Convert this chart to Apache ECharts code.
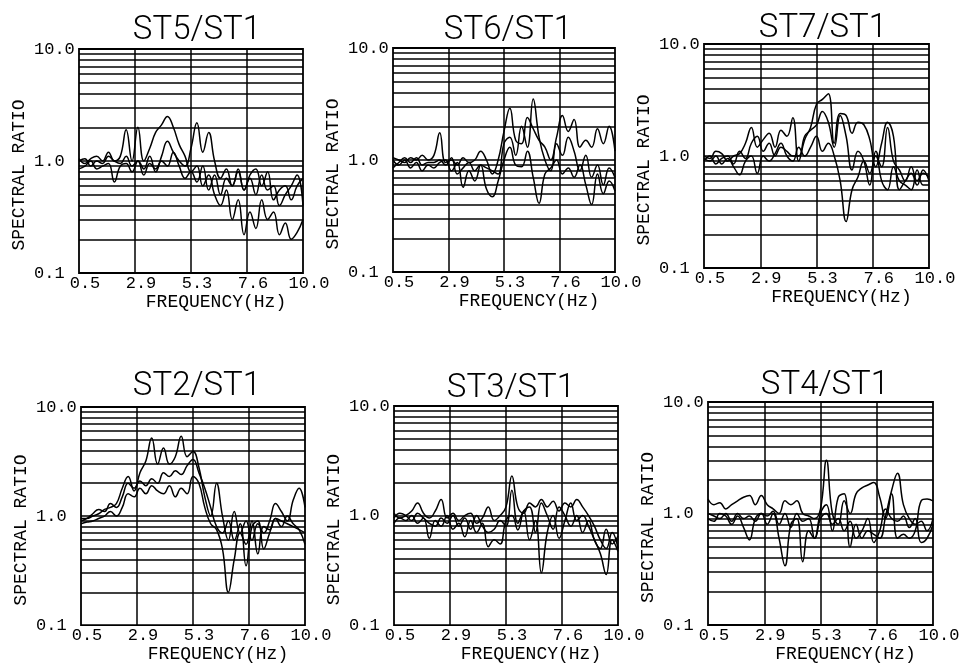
<!DOCTYPE html>
<html>
<head>
<meta charset="utf-8">
<title>Spectral ratio</title>
<script src="https://cdn.jsdelivr.net/npm/echarts@6/dist/echarts.min.js"></script>
<style>
  html, body { margin: 0; padding: 0; background: #fff; }
  #chart { width: 971px; height: 664px; }
</style>
</head>
<body>
<div id="chart"></div>
<script>
// frequency samples (Hz)
var freqs = [0.5, 0.75, 1, 1.25, 1.5, 1.75, 2, 2.25, 2.5, 2.75, 3, 3.25, 3.5, 3.75, 4, 4.25, 4.5, 4.75, 5, 5.25,
  5.5, 5.75, 6, 6.25, 6.5, 6.75, 7, 7.25, 7.5, 7.75, 8, 8.25, 8.5, 8.75, 9, 9.25, 9.5, 9.75, 10];

// tick values / labels
var xTickValues = [0.5, 2.875, 5.25, 7.625, 10];
var xTickLabels = ['0.5', '2.9', '5.3', '7.6', '10.0'];
var yTickValues = [0.1, 1, 10];
var yTickLabels = ['0.1', '1.0', '10.0'];
var yGridValues = [0.2, 0.3, 0.4, 0.5, 0.6, 0.7, 0.8, 0.9, 1, 2, 3, 4, 5, 6, 7, 8, 9];

// ST5/ST1
var st5A = [1.05, 0.95, 1.05, 1.1, 1.0, 1.2, 1.0, 1.1, 1.9, 1.0, 2.0, 1.0, 1.3, 1.8, 2.1, 2.5, 2.0, 1.4, 1.1, 0.8,
  0.9, 0.6, 0.75, 0.5, 0.4, 0.55, 0.3, 0.45, 0.22, 0.35, 0.25, 0.45, 0.3, 0.35, 0.22, 0.28, 0.2, 0.23, 0.3];
var st5B = [1.0, 1.05, 0.9, 1.0, 0.95, 1.1, 1.0, 0.95, 1.1, 0.9, 1.0, 0.85, 1.1, 0.8, 1.1, 1.5, 1.2, 1.0, 0.9, 1.3,
  2.2, 1.2, 1.8, 1.0, 0.7, 0.85, 0.6, 0.8, 0.55, 0.75, 0.85, 0.6, 0.8, 0.45, 0.55, 0.6, 0.45, 0.6, 0.7];
var st5C = [0.85, 0.9, 1.0, 0.85, 0.9, 0.95, 0.65, 0.9, 0.95, 0.8, 1.0, 0.75, 0.95, 0.85, 1.0, 0.9, 1.2, 0.9, 0.7, 0.8,
  0.65, 0.9, 0.55, 0.75, 0.5, 0.7, 0.6, 0.85, 0.55, 0.7, 0.5, 0.75, 0.55, 0.6, 0.4, 0.5, 0.6, 0.75, 0.4];

// ST6/ST1
var st6A = [1.05, 1.0, 0.95, 1.05, 1.0, 1.1, 1.0, 1.1, 1.75, 0.95, 1.0, 0.9, 1.05, 0.95, 1.0, 1.2, 1.0, 0.75, 1.0, 1.8,
  2.9, 1.5, 1.4, 2.4, 1.9, 1.5, 1.3, 1.0, 1.6, 2.5, 1.8, 2.3, 1.3, 1.5, 1.3, 1.9, 1.4, 2.0, 1.2];
var st6B = [0.85, 0.95, 1.05, 0.95, 1.05, 0.9, 0.95, 0.95, 1.0, 0.9, 1.05, 0.75, 0.85, 0.95, 0.8, 0.9, 0.85, 0.8, 0.75, 1.4,
  1.6, 1.1, 2.0, 1.3, 3.5, 1.6, 1.0, 0.8, 1.4, 1.1, 1.6, 1.2, 0.8, 1.1, 0.7, 0.9, 0.6, 0.85, 0.7];
var st6C = [1.0, 0.9, 1.0, 0.85, 0.95, 0.8, 0.9, 0.85, 0.95, 1.0, 0.8, 0.95, 0.57, 0.8, 0.65, 0.9, 0.55, 0.47, 0.65, 1.0,
  1.3, 0.9, 0.87, 1.2, 0.7, 0.41, 0.75, 0.85, 1.0, 0.75, 0.85, 0.7, 0.9, 0.6, 0.4, 0.75, 0.5, 0.65, 0.53];

// ST7/ST1
var st7A = [1.0, 0.95, 1.1, 1.05, 0.9, 1.0, 1.05, 1.3, 1.8, 1.2, 1.4, 1.6, 1.2, 1.7, 1.5, 2.2, 0.9, 1.4, 1.8, 2.9,
  3.2, 3.6, 1.3, 2.4, 2.3, 1.6, 2.0, 1.9, 1.4, 0.8, 1.3, 2.0, 1.5, 0.5, 0.6, 0.7, 0.55, 0.75, 0.6];
var st7B = [0.9, 1.0, 0.85, 0.95, 1.0, 0.85, 1.1, 0.95, 1.3, 1.5, 1.1, 1.3, 1.0, 1.2, 1.1, 1.0, 1.0, 1.5, 1.7, 1.9,
  2.5, 2.0, 1.2, 2.3, 1.5, 0.75, 1.1, 0.9, 0.55, 1.0, 0.8, 1.8, 0.9, 0.75, 0.6, 0.8, 0.6, 0.7, 0.65];
var st7C = [0.95, 0.9, 1.0, 0.85, 0.95, 0.8, 0.68, 0.9, 1.0, 0.7, 1.0, 0.9, 1.05, 1.3, 1.0, 0.9, 1.2, 1.0, 1.2, 1.5,
  1.1, 1.3, 1.0, 0.6, 0.26, 0.5, 0.65, 0.9, 0.7, 1.1, 0.6, 0.5, 0.8, 0.6, 0.55, 0.5, 0.75, 0.55, 0.55];

// ST2/ST1
var st2A = [0.95, 0.95, 1.0, 1.05, 1.15, 1.2, 1.3, 1.8, 2.3, 1.7, 2.5, 3.2, 5.2, 3.0, 4.2, 3.0, 3.5, 5.4, 3.5, 3.9,
  2.8, 1.5, 1.0, 2.0, 1.0, 0.6, 1.1, 0.7, 0.9, 0.6, 0.85, 0.7, 0.9, 1.3, 1.1, 0.9, 1.4, 1.8, 1.2];
var st2B = [0.9, 0.95, 1.05, 1.15, 1.1, 1.3, 1.2, 1.5, 2.0, 1.8, 2.1, 1.9, 2.2, 2.0, 2.5, 2.3, 2.6, 2.4, 2.9, 3.3,
  2.5, 1.8, 1.2, 0.8, 0.7, 0.9, 0.6, 0.85, 0.35, 0.8, 0.9, 0.5, 0.7, 0.95, 0.8, 1.0, 0.85, 0.75, 0.55];
var st2C = [0.85, 0.88, 0.9, 0.95, 1.0, 1.1, 1.0, 1.2, 1.6, 1.5, 1.8, 1.6, 1.9, 1.7, 1.6, 1.9, 1.5, 1.8, 1.6, 2.3,
  2.0, 1.2, 0.85, 0.75, 0.5, 0.2, 0.4, 0.7, 0.55, 0.9, 0.45, 0.8, 0.75, 0.95, 0.9, 0.85, 0.8, 0.75, 0.7];

// ST3/ST1
var st3A = [1.05, 0.95, 1.0, 1.1, 1.3, 1.05, 0.95, 1.1, 1.4, 0.95, 1.05, 0.9, 1.0, 1.05, 0.85, 0.95, 1.2, 0.9, 1.0, 1.2,
  2.3, 1.2, 1.05, 1.3, 1.2, 1.4, 1.2, 1.35, 1.1, 1.3, 1.2, 1.4, 1.2, 1.0, 0.8, 0.6, 0.5, 0.7, 0.5];
var st3B = [0.95, 1.05, 1.0, 0.9, 1.05, 0.95, 0.85, 0.8, 0.95, 0.85, 1.0, 0.8, 0.95, 0.75, 1.0, 0.8, 0.7, 0.75, 0.9, 0.8,
  1.7, 0.85, 1.1, 1.2, 0.7, 1.3, 1.0, 0.75, 1.2, 1.0, 0.8, 1.0, 0.7, 0.9, 0.6, 0.5, 0.75, 0.55, 0.65];
var st3C = [0.85, 0.95, 0.9, 1.0, 0.85, 0.95, 0.62, 0.9, 0.8, 1.0, 0.75, 0.85, 0.64, 0.9, 0.7, 0.85, 0.52, 0.6, 0.55, 0.9,
  1.0, 0.74, 1.1, 0.6, 0.9, 0.3, 0.7, 1.0, 0.62, 0.9, 1.3, 0.9, 1.0, 0.8, 0.6, 0.45, 0.29, 0.6, 0.47];

// ST4/ST1
var st4A = [1.35, 1.2, 1.25, 1.1, 1.2, 1.3, 1.4, 1.45, 1.2, 1.45, 1.2, 1.1, 1.0, 1.3, 1.2, 1.3, 1.0, 0.95, 0.9, 1.1,
  3.0, 1.0, 0.8, 1.3, 1.0, 1.5, 1.7, 1.8, 1.9, 1.4, 0.9, 1.5, 0.6, 0.65, 0.6, 0.7, 1.3, 1.35, 1.3];
var st4B = [1.0, 0.95, 0.9, 1.0, 0.85, 1.0, 0.9, 0.95, 0.85, 1.0, 0.95, 1.05, 0.8, 1.0, 0.75, 1.0, 0.85, 0.9, 0.6, 1.0,
  1.2, 0.7, 1.4, 1.5, 0.5, 0.8, 0.6, 0.7, 0.65, 0.6, 0.95, 1.6, 2.3, 1.2, 0.9, 0.8, 0.85, 0.7, 0.9];
var st4C = [0.9, 0.85, 1.0, 0.95, 0.8, 0.95, 0.75, 0.58, 0.9, 1.0, 0.8, 1.0, 0.6, 0.34, 0.8, 0.9, 0.37, 0.7, 0.6, 0.9,
  1.0, 0.8, 0.9, 0.7, 0.85, 0.6, 0.7, 0.9, 0.55, 0.7, 1.1, 0.9, 0.85, 0.95, 0.75, 0.9, 0.55, 0.6, 0.8];

var panels = [
  { name: 'ST5/ST1', lines: [st5A, st5B, st5C], box: [79, 49, 224, 224], titleX: 197, titleY: 14 },
  { name: 'ST6/ST1', lines: [st6A, st6B, st6C], box: [393, 48, 222, 224], titleX: 508, titleY: 14 },
  { name: 'ST7/ST1', lines: [st7A, st7B, st7C], box: [704, 44, 225, 224], titleX: 823, titleY: 12 },
  { name: 'ST2/ST1', lines: [st2A, st2B, st2C], box: [81, 407, 224, 223], titleX: 197, titleY: 370 },
  { name: 'ST3/ST1', lines: [st3A, st3B, st3C], box: [394, 406, 224, 222], titleX: 511, titleY: 372 },
  { name: 'ST4/ST1', lines: [st4A, st4B, st4C], box: [708, 402, 225, 223], titleX: 825, titleY: 369 }
];

var FONT = 'Liberation Mono';

function pick(values, labels, v) {
  for (var k = 0; k < values.length; k++) {
    if (Math.abs(values[k] - v) < 1e-6 * Math.max(1, Math.abs(v))) return labels[k];
  }
  return '';
}

var gridMarks = [];
yGridValues.forEach(function (v) { gridMarks.push({ yAxis: v }); });
xTickValues.slice(1, -1).forEach(function (v) { gridMarks.push({ xAxis: v }); });

var option = {
  animation: false,
  backgroundColor: '#fff',
  title: [],
  grid: [],
  xAxis: [],
  yAxis: [],
  series: []
};

panels.forEach(function (p, i) {
  option.title.push({
    text: p.name,
    left: p.titleX,
    top: p.titleY,
    textAlign: 'center',
    padding: 0,
    textStyle: { fontFamily: 'Roboto', fontSize: 33, fontWeight: 300, color: '#000' }
  });
  option.grid.push({
    left: p.box[0], top: p.box[1], width: p.box[2], height: p.box[3],
    show: true, borderColor: '#000', borderWidth: 1.8, backgroundColor: 'transparent'
  });
  option.xAxis.push({
    type: 'value', gridIndex: i, min: 0.5, max: 10,
    name: 'FREQUENCY(Hz)', nameLocation: 'middle', nameGap: 6,
    nameTextStyle: { fontFamily: FONT, fontSize: 18, color: '#000', padding: [0, 0, 0, 50] },
    axisLine: { show: false }, axisTick: { show: false }, splitLine: { show: false },
    axisLabel: {
      customValues: xTickValues, margin: 2, fontFamily: FONT, fontSize: 17, color: '#000',
      padding: [0, 0, 0, 12], showMinLabel: true, showMaxLabel: true,
      formatter: function (v) { return pick(xTickValues, xTickLabels, v); }
    }
  });
  option.yAxis.push({
    type: 'log', logBase: 10, gridIndex: i, min: 0.1, max: 10,
    name: 'SPECTRAL RATIO', nameLocation: 'middle', nameGap: 51, nameRotate: 90,
    nameTextStyle: { fontFamily: FONT, fontSize: 18, color: '#000', padding: [0, 28, 0, 0] },
    axisLine: { show: false }, axisTick: { show: false }, splitLine: { show: false },
    axisLabel: {
      margin: 45, align: 'left', fontFamily: FONT, fontSize: 17, color: '#000',
      padding: [0, 0, 6, 0], showMinLabel: true, showMaxLabel: true,
      formatter: function (v) { return pick(yTickValues, yTickLabels, v); }
    }
  });
  p.lines.forEach(function (vals, j) {
    var s = {
      type: 'line', xAxisIndex: i, yAxisIndex: i,
      data: freqs.map(function (f, k) { return [f, vals[k]]; }),
      smooth: 0.45, showSymbol: false, symbol: 'none',
      lineStyle: { color: '#000', width: 1.5 },
      silent: true
    };
    if (j === 0) {
      s.markLine = {
        silent: true, symbol: 'none', animation: false,
        label: { show: false },
        lineStyle: { color: '#000', width: 1.5, type: 'solid' },
        data: gridMarks
      };
    }
    option.series.push(s);
  });
});

var chart = echarts.init(document.getElementById('chart'));
chart.setOption(option);
</script>
</body>
</html>
